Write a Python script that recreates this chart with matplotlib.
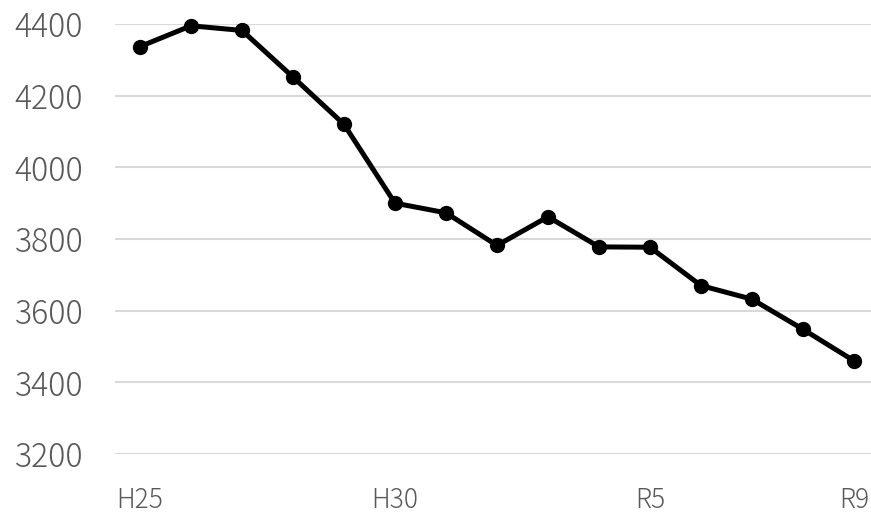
import matplotlib
matplotlib.use("Agg")
import matplotlib.pyplot as plt

years = ["H25", "H26", "H27", "H28", "H29", "H30", "R1", "R2", "R3", "R4",
         "R5", "R6", "R7", "R8", "R9"]
values = [4337, 4395, 4382, 4252, 4120, 3900, 3873, 3782, 3862, 3778,
          3777, 3670, 3632, 3548, 3460]
shown_labels = {"H25", "H30", "R5", "R9"}
yticks = [3200, 3400, 3600, 3800, 4000, 4200, 4400]

plt.rcParams['font.family'] = ['Noto Sans CJK JP', 'DejaVu Sans']

fig = plt.figure(figsize=(8.71, 5.16), dpi=100)
ax = fig.add_axes([114.5 / 871, 62 / 516, 765 / 871, 430 / 516])

x = list(range(len(years)))
ax.plot(x, values, color="black", lw=3.6, marker="o", markersize=10,
        solid_capstyle="round", solid_joinstyle="round", zorder=3, clip_on=False)

ax.set_xlim(-0.5, len(years) - 0.5)
ax.set_ylim(3200, 4400)
ax.set_yticks(yticks)
ax.set_yticklabels([str(v) for v in yticks])
ax.set_xticks(x)
ax.set_xticklabels([y if y in shown_labels else "" for y in years])

ax.grid(axis="y", color="#d9d9d9", lw=1.5)
ax.set_axisbelow(True)
for s in ax.spines.values():
    s.set_visible(False)
ax.tick_params(axis="both", length=0, colors="#595959")
ax.tick_params(axis="y", labelsize=23, pad=22.5)
ax.tick_params(axis="x", labelsize=19, pad=23)
for lab in ax.get_yticklabels() + ax.get_xticklabels():
    lab.set_fontweight("light")

fig.savefig("out.png", dpi=100)
